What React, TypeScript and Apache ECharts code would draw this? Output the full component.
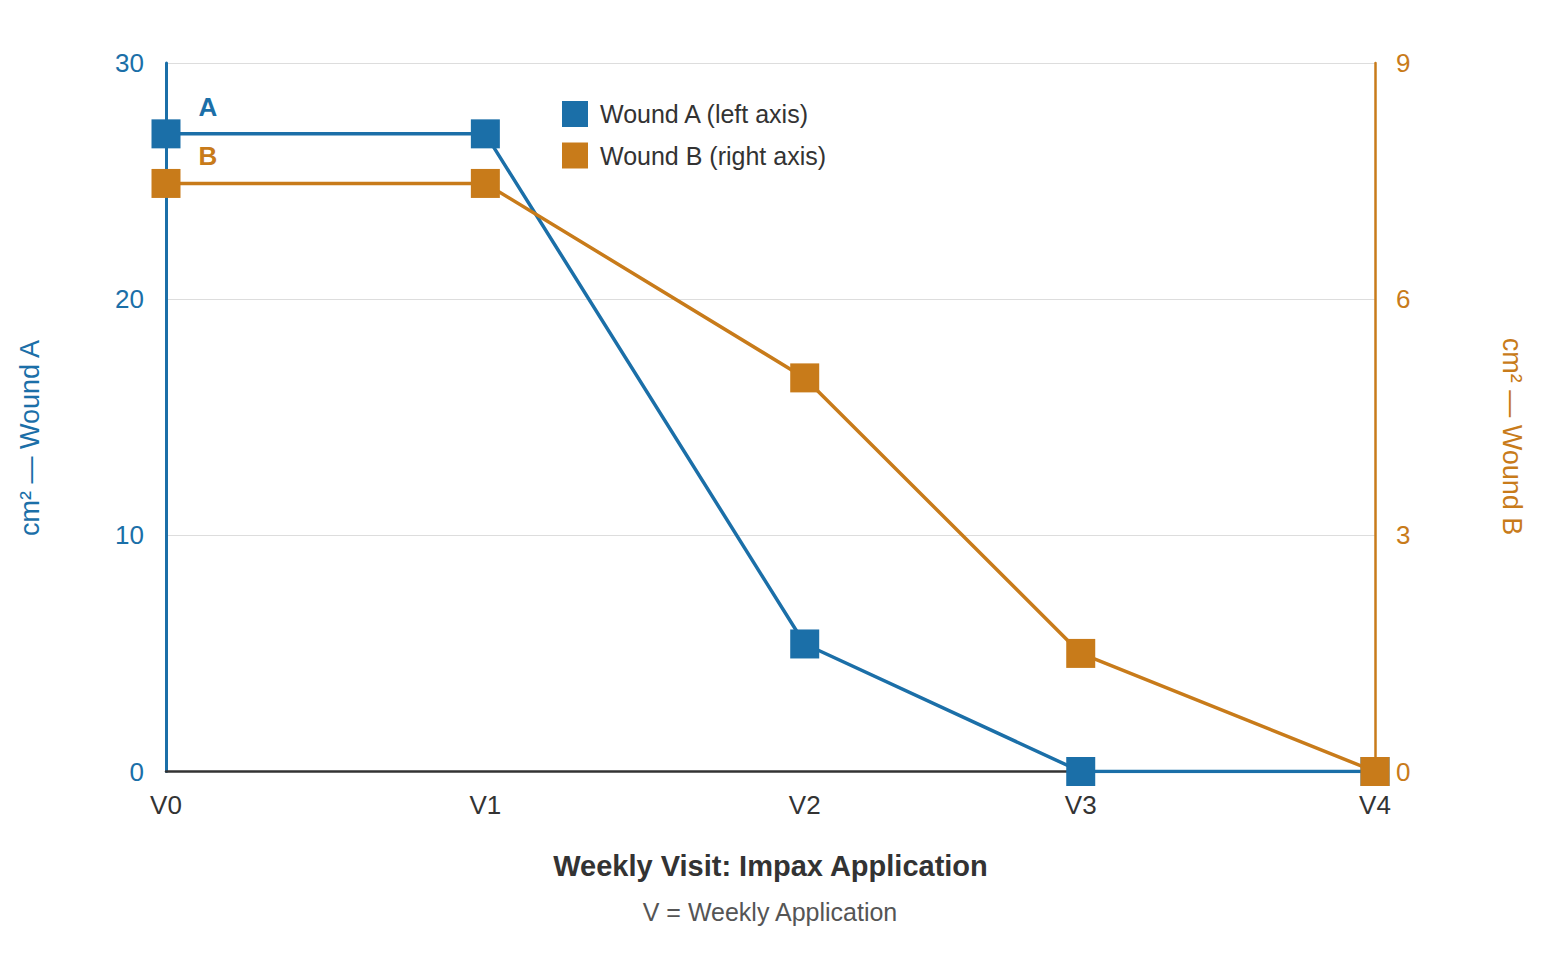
import React, { useEffect, useRef } from "react";
import * as echarts from "echarts";

// ---- data ----
const visitLabels = ["V0", "V1", "V2", "V3", "V4"];
const visitDays = [0, 7, 14, 20.05, 26.5];
const woundA = [27, 27, 5.4, 0, 0];
const woundB = [7.47, 7.47, 5, 1.5, 0];
const seriesNames = ["Wound A (left axis)", "Wound B (right axis)"];
const seriesTags = ["A", "B"];

const BLUE = "#1b6fa8";
const ORANGE = "#c87b1a";
const DARK = "#333333";
const FONT = "'Liberation Sans', Arial, Helvetica, sans-serif";

function buildPoints(values: number[], tag: string) {
  return values.map((v, i) => {
    const item: any = { value: [visitDays[i], v] };
    if (i === 0) {
      item.label = {
        show: true,
        formatter: tag,
        position: "inside",
        offset: [42, -27],
        fontSize: 26,
        fontWeight: "bold",
        fontFamily: FONT,
        color: tag === "A" ? BLUE : ORANGE,
      };
    }
    return item;
  });
}

export default function App() {
  const ref = useRef<HTMLDivElement>(null);

  useEffect(() => {
    if (!ref.current) return;
    const chart = echarts.init(ref.current, undefined, { renderer: "svg" });
    const xLabel = (v: number) => {
      const i = visitDays.findIndex((d) => Math.abs(d - v) < 0.01);
      return i >= 0 ? visitLabels[i] : "";
    };
    chart.setOption({
      animation: false,
      backgroundColor: "#ffffff",
      textStyle: { fontFamily: FONT },
      grid: { left: 166, right: 167, top: 63, bottom: 208.5, containLabel: false },
      legend: {
        orient: "vertical",
        left: 562,
        top: 101,
        padding: 0,
        itemWidth: 26,
        itemHeight: 26,
        itemGap: 15.5,
        icon: "rect",
        data: seriesNames,
        textStyle: { fontSize: 25, color: DARK, fontFamily: FONT, padding: [2, 0, 0, 7] },
      },
      xAxis: {
        type: "value",
        min: 0,
        max: 26.5,
        interval: 0.05,
        axisLine: { show: true, onZero: false, lineStyle: { color: DARK, width: 2.5 } },
        axisTick: { show: false },
        splitLine: { show: false },
        axisLabel: {
          formatter: xLabel,
          fontSize: 26,
          color: DARK,
          margin: 20,
          fontFamily: FONT,
          showMinLabel: true,
          showMaxLabel: true,
        },
        name: "Weekly Visit: Impax Application",
        nameLocation: "middle",
        nameGap: 80,
        nameTextStyle: { fontSize: 29, fontWeight: "bold", color: DARK, fontFamily: FONT },
      },
      yAxis: [
        {
          type: "value",
          min: 0,
          max: 30,
          interval: 10,
          position: "left",
          axisLine: { show: true, lineStyle: { color: BLUE, width: 3 } },
          axisTick: { show: false },
          splitLine: { show: true, lineStyle: { color: "#dddddd", width: 1 } },
          axisLabel: { fontSize: 26, color: BLUE, margin: 22, fontFamily: FONT },
        },
        {
          type: "value",
          min: 0,
          max: 9,
          interval: 3,
          position: "right",
          axisLine: { show: true, lineStyle: { color: ORANGE, width: 2.5 } },
          axisTick: { show: false },
          splitLine: { show: false },
          axisLabel: { fontSize: 26, color: ORANGE, margin: 21, fontFamily: FONT },
        },
      ],
      graphic: [
        {
          type: "text",
          x: 30,
          y: 438,
          rotation: Math.PI / 2,
          style: {
            text: "cm² — Wound A",
            fontSize: 27,
            fontFamily: FONT,
            fill: BLUE,
            textAlign: "center",
            textVerticalAlign: "middle",
          },
        },
        {
          type: "text",
          x: 1512,
          y: 436.5,
          rotation: -Math.PI / 2,
          style: {
            text: "cm² — Wound B",
            fontSize: 27,
            fontFamily: FONT,
            fill: ORANGE,
            textAlign: "center",
            textVerticalAlign: "middle",
          },
        },
        {
          type: "text",
          x: 770,
          y: 912,
          style: {
            text: "V = Weekly Application",
            fontSize: 25,
            fontFamily: FONT,
            fill: "#555555",
            textAlign: "center",
            textVerticalAlign: "middle",
          },
        },
      ],
      series: [
        {
          name: seriesNames[0],
          type: "line",
          yAxisIndex: 0,
          data: buildPoints(woundA, seriesTags[0]),
          symbol: "rect",
          symbolSize: 29,
          lineStyle: { color: BLUE, width: 3.5 },
          itemStyle: { color: BLUE },
          emphasis: { disabled: true },
          z: 3,
        },
        {
          name: seriesNames[1],
          type: "line",
          yAxisIndex: 1,
          data: buildPoints(woundB, seriesTags[1]),
          symbol: "rect",
          symbolSize: 29,
          lineStyle: { color: ORANGE, width: 3.5 },
          itemStyle: { color: ORANGE },
          emphasis: { disabled: true },
          z: 4,
        },
      ],
    });
    return () => chart.dispose();
  }, []);

  return (
    <div
      ref={ref}
      style={{ position: "absolute", left: 0, top: 0, width: 1542, height: 980, background: "#fff" }}
    />
  );
}
